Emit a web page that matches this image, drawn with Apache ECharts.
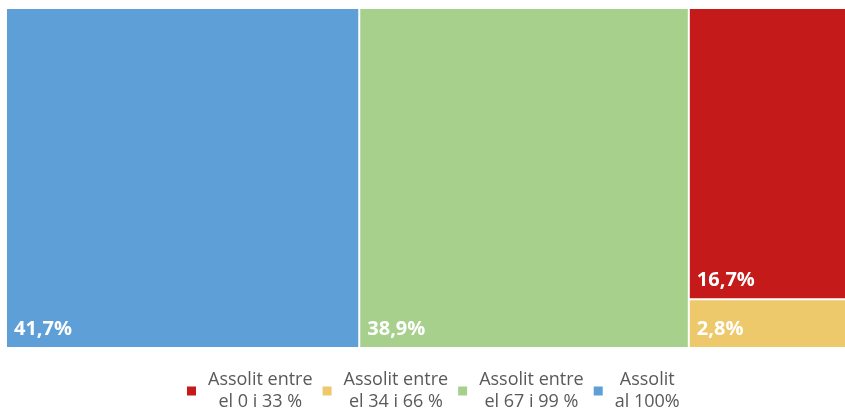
<!DOCTYPE html>
<html>
<head>
<meta charset="utf-8">
<script src="https://cdn.jsdelivr.net/npm/echarts@6/dist/echarts.min.js"></script>
<style>
  html, body { margin: 0; padding: 0; background: #fff; }
  #chart { width: 845px; height: 411px; }
</style>
</head>
<body>
<div id="chart"></div>
<script>
// categories (legend order) and their percentages
const categories = ['Assolit entre\nel 0 i 33 %', 'Assolit entre\nel 34 i 66 %', 'Assolit entre\nel 67 i 99 %', 'Assolit\nal 100%'];
const values = [16.7, 2.8, 38.9, 41.7];
const colors = ['#C41A1A', '#EEC96B', '#A7D08C', '#5F9FD7'];

const fmt = v => v.toFixed(1).replace('.', ',') + '%';

const chart = echarts.init(document.getElementById('chart'));

const option = {
  animation: false,
  textStyle: { fontFamily: '"Open Sans", sans-serif' },
  legend: {
    top: 366,
    left: 182,
    icon: 'rect',
    itemWidth: 9,
    itemHeight: 9,
    itemGap: 10,
    data: categories,
    formatter: name => name.split('\n').map(s => '{c|' + s + '}').join('\n'),
    textStyle: {
      color: '#595959',
      fontSize: 18,
      rich: {
        c: { align: 'center', fontSize: 18, lineHeight: 22, color: '#595959', padding: [0, 0, 0, 7] }
      }
    }
  },
  series: [
    {
      type: 'treemap',
      left: 7,
      top: 9,
      right: -8,
      bottom: 64,
      roam: false,
      nodeClick: false,
      breadcrumb: { show: false },
      silent: true,
      levels: [
        { itemStyle: { gapWidth: 2, borderWidth: 0, borderColor: '#fff' } }
      ],
      label: {
        show: true,
        position: 'insideBottomLeft',
        distance: 0,
        padding: [0, 0, 8, 7],
        color: '#fff',
        fontSize: 20,
        fontWeight: 'bold',
        formatter: p => fmt(p.value)
      },
      data: categories.map((c, i) => ({
        name: c,
        value: values[i],
        itemStyle: { color: colors[i] }
      }))
    },
    // empty series so the legend gets one entry per category
    ...categories.map((c, i) => ({
      type: 'graph',
      name: c,
      data: [],
      itemStyle: { color: colors[i] }
    }))
  ]
};

chart.setOption(option);
</script>
</body>
</html>
